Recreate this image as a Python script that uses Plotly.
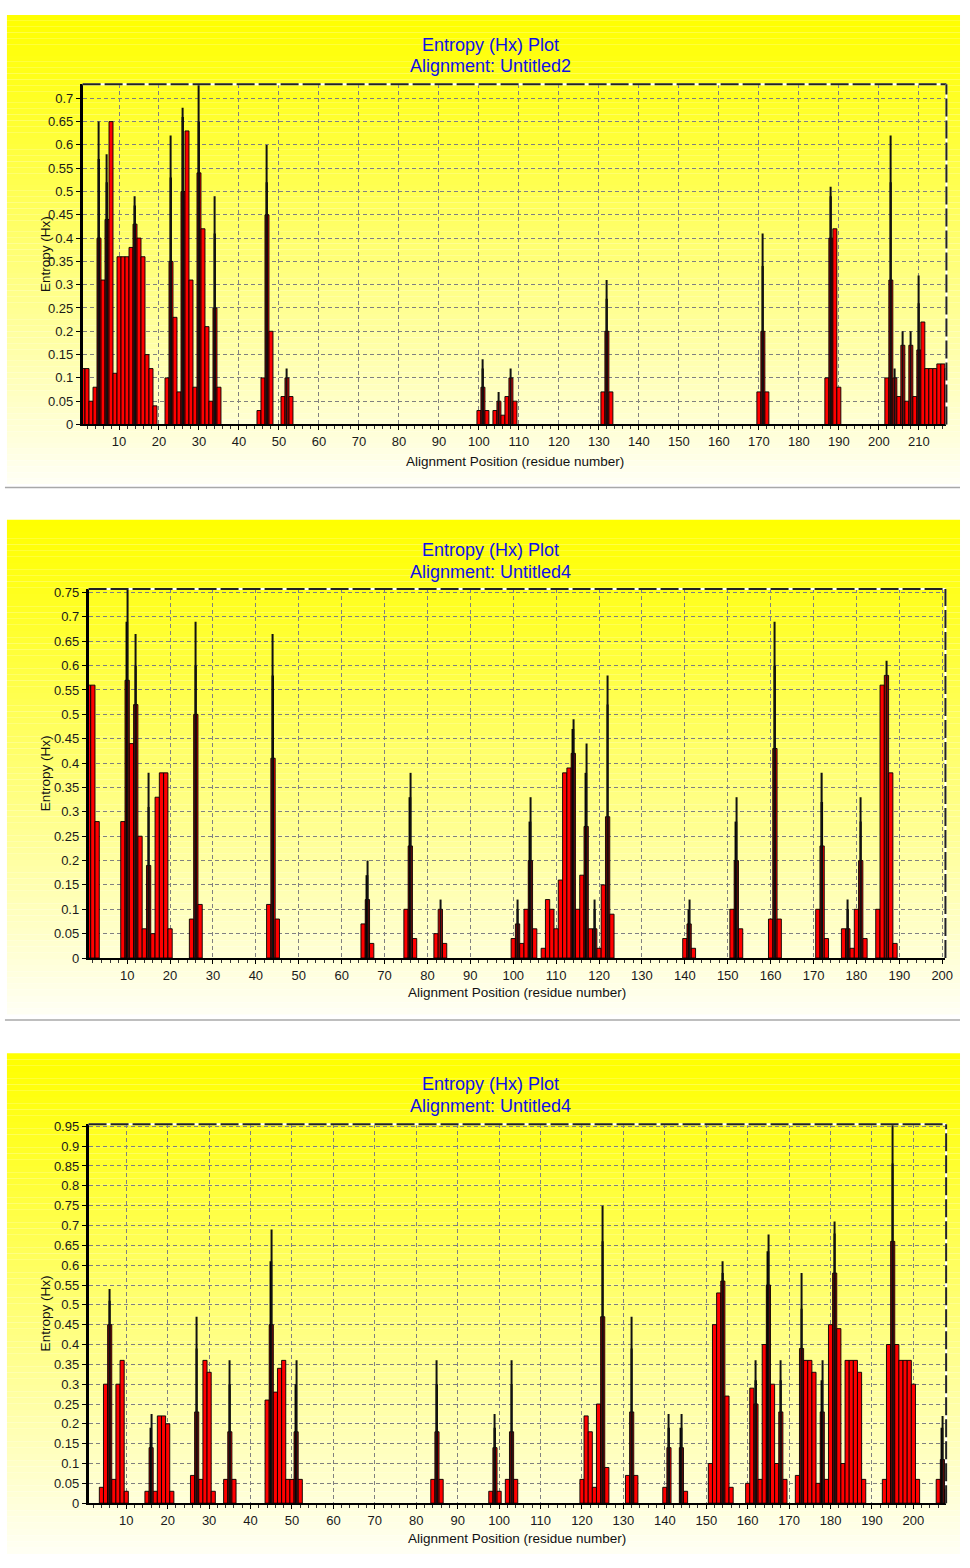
import plotly.graph_objects as go

W, H = 970, 1568

# ---------------- data: panel 1 (Untitled2) ----------------
p1_pos = [1, 2, 3, 4, 5, 6, 7, 8, 9, 10, 11, 12, 13, 14, 15, 16, 17, 18, 19,
          22, 23, 24, 25, 26, 27, 28, 29, 30, 31, 32, 33, 34, 35,
          45, 46, 47, 48, 51, 52, 53,
          100, 101, 102, 104, 105, 106, 107, 108, 109, 131, 132, 133,
          170, 171, 172, 187, 188, 189, 190,
          202, 203, 204, 205, 206, 207, 208, 209, 210, 211, 212, 213, 214, 215, 216, 217]
p1_hx = [0.12, 0.12, 0.05, 0.08, 0.40, 0.31, 0.44, 0.65, 0.11, 0.36, 0.36, 0.36, 0.38, 0.43, 0.40, 0.36, 0.15, 0.12, 0.04,
         0.10, 0.35, 0.23, 0.07, 0.50, 0.63, 0.31, 0.08, 0.54, 0.42, 0.21, 0.05, 0.25, 0.08,
         0.03, 0.10, 0.45, 0.20, 0.06, 0.10, 0.06,
         0.03, 0.08, 0.03, 0.03, 0.05, 0.02, 0.06, 0.10, 0.05, 0.07, 0.20, 0.07,
         0.07, 0.20, 0.07, 0.10, 0.40, 0.42, 0.08,
         0.10, 0.31, 0.10, 0.06, 0.17, 0.05, 0.17, 0.06, 0.16, 0.22, 0.12, 0.12, 0.12, 0.13, 0.13, 0.12]
p1_peak_pos = [5, 7, 14, 23, 26, 30, 34, 47, 52, 101, 105, 108, 132, 171, 188, 203, 204, 206, 208, 210]
p1_peak_core = [0.57, 0.52, 0.47, 0.53, 0.66, 0.65, 0.41, 0.52, None, 0.12, None, None, 0.27,
                0.34, 0.49, 0.52, None, None, None, 0.26]
p1_peak_top = [0.65, 0.58, 0.49, 0.62, 0.68, 0.73, 0.49, 0.60, 0.12, 0.14, 0.07, 0.12, 0.31,
               0.41, 0.51, 0.62, 0.12, 0.20, 0.20, 0.32]

# ---------------- data: panel 2 (Untitled4) ----------------
p2_pos = [1, 2, 3, 9, 10, 11, 12, 13, 14, 15, 16, 17, 18, 19, 20,
          25, 26, 27, 43, 44, 45, 65, 66, 67, 75, 76, 77, 82, 83, 84,
          100, 101, 102, 103, 104, 105, 107, 108, 109, 110, 111, 112, 113, 114, 115,
          116, 117, 118, 119, 120, 121, 122, 123,
          140, 141, 142, 151, 152, 153, 160, 161, 162, 171, 172, 173,
          177, 178, 179, 180, 181, 182, 185, 186, 187, 188, 189]
p2_hx = [0.56, 0.56, 0.28, 0.28, 0.57, 0.44, 0.52, 0.25, 0.06, 0.19, 0.05, 0.33, 0.38, 0.38, 0.06,
         0.08, 0.50, 0.11, 0.11, 0.41, 0.08, 0.07, 0.12, 0.03, 0.10, 0.23, 0.04, 0.05, 0.10, 0.03,
         0.04, 0.07, 0.03, 0.10, 0.20, 0.06, 0.02, 0.12, 0.10, 0.06, 0.16, 0.38, 0.39, 0.42, 0.10,
         0.17, 0.27, 0.06, 0.06, 0.02, 0.15, 0.29, 0.09,
         0.04, 0.07, 0.02, 0.10, 0.20, 0.06, 0.08, 0.43, 0.08, 0.10, 0.23, 0.04,
         0.06, 0.06, 0.02, 0.10, 0.20, 0.04, 0.10, 0.56, 0.58, 0.38, 0.03]
p2_peak_pos = [10, 12, 15, 26, 44, 66, 76, 83, 101, 104, 114, 117, 119, 122,
               141, 152, 161, 172, 178, 181, 187]
p2_peak_core = [0.69, 0.60, 0.31, 0.60, 0.58, 0.17, 0.33, None, 0.10, 0.28, 0.47, 0.38, 0.10, 0.52,
                0.10, 0.28, 0.60, 0.32, 0.10, 0.28, None]
p2_peak_top = [0.76, 0.665, 0.38, 0.69, 0.665, 0.20, 0.38, 0.12, 0.12, 0.33, 0.49, 0.44, 0.12, 0.58,
               0.12, 0.33, 0.69, 0.38, 0.12, 0.33, 0.61]

# ---------------- data: panel 3 (Untitled4) ----------------
p3_pos = [4, 5, 6, 7, 8, 9, 10, 15, 16, 17, 18, 19, 20, 21,
          26, 27, 28, 29, 30, 31, 34, 35, 36, 44, 45, 46, 47, 48, 49, 50, 51, 52,
          84, 85, 86, 98, 99, 100, 102, 103, 104,
          120, 121, 122, 123, 124, 125, 126, 131, 132, 133,
          140, 141, 144, 145, 151, 152, 153, 154, 155, 156,
          160, 161, 162, 163, 164, 165, 166, 167, 168, 169,
          172, 173, 174, 175, 176, 177, 178, 179, 180, 181, 182, 183,
          184, 185, 186, 187, 188, 193, 194, 195, 196, 197, 198, 199, 200, 201,
          206, 207, 208]
p3_hx = [0.04, 0.30, 0.45, 0.06, 0.30, 0.36, 0.03, 0.03, 0.14, 0.03, 0.22, 0.22, 0.20, 0.03,
         0.07, 0.23, 0.06, 0.36, 0.33, 0.03, 0.06, 0.18, 0.06, 0.26, 0.45, 0.28, 0.34, 0.36, 0.06, 0.06, 0.18, 0.06,
         0.06, 0.18, 0.06, 0.03, 0.14, 0.03, 0.06, 0.18, 0.06,
         0.06, 0.22, 0.18, 0.04, 0.25, 0.47, 0.09, 0.07, 0.23, 0.07,
         0.04, 0.14, 0.14, 0.03, 0.10, 0.45, 0.53, 0.56, 0.27, 0.04,
         0.05, 0.29, 0.25, 0.06, 0.40, 0.55, 0.30, 0.10, 0.23, 0.06,
         0.07, 0.39, 0.36, 0.36, 0.33, 0.05, 0.23, 0.06, 0.45, 0.58, 0.44, 0.10,
         0.36, 0.36, 0.36, 0.33, 0.06, 0.06, 0.40, 0.66, 0.40, 0.36, 0.36, 0.36, 0.30, 0.06,
         0.06, 0.11, 0.035]
p3_peak_pos = [6, 16, 27, 35, 45, 51, 85, 99, 103, 125, 132, 141, 144,
               154, 162, 165, 168, 173, 178, 181, 195, 207]
p3_peak_core = [0.51, 0.19, 0.39, 0.30, 0.61, 0.30, 0.30, 0.19, 0.30, 0.66, 0.39, 0.19, 0.19,
                0.58, 0.31, 0.635, 0.31, 0.49, 0.31, 0.68, 0.856, 0.19]
p3_peak_top = [0.54, 0.225, 0.47, 0.36, 0.69, 0.36, 0.36, 0.225, 0.36, 0.75, 0.47, 0.225, 0.225,
               0.61, 0.36, 0.677, 0.36, 0.58, 0.36, 0.71, 0.955, 0.22]

panel_titles = ["Alignment: Untitled2", "Alignment: Untitled4", "Alignment: Untitled4"]
main_title = "Entropy (Hx) Plot"
x_title = "Alignment Position (residue number)"
y_title = "Entropy (Hx)"

# ---------------- layout geometry (pixels) ----------------
panels = [
    dict(pos=p1_pos, hx=p1_hx, ppos=p1_peak_pos, core=p1_peak_core, top=p1_peak_top,
         plot=(83.3, 954.3, 80.0, 423.0), xr=[0.9, 216.9], yr=[0, 0.73],
         box=(10, 483), t1=40, t2=62, xt=460, tx=495),
    dict(pos=p2_pos, hx=p2_hx, ppos=p2_peak_pos, core=p2_peak_core, top=p2_peak_top,
         plot=(89.3, 953.3, 589.0, 961.0), xr=[1.0, 200.75], yr=[0, 0.757],
         box=(519, 1018), t1=550, t2=572, xt=996, tx=495),
    dict(pos=p3_pos, hx=p3_hx, ppos=p3_peak_pos, core=p3_peak_core, top=p3_peak_top,
         plot=(89.3, 954.0, 1128.7, 1510.7), xr=[0.9, 207.9], yr=[0, 0.955],
         box=(1057, 1562), t1=1088, t2=1110, xt=1546, tx=495),
]


def fx(x):
    return x / W


def fy(y):
    return 1 - y / H


FONT = "Liberation Sans, Arial, sans-serif"
fig = go.Figure()
shapes = []
annotations = []

for i, p in enumerate(panels):
    n = "" if i == 0 else str(i + 1)
    xa, ya = "x" + n, "y" + n
    x0, x1, y0, y1 = p["plot"]

    # yellow gradient panel background
    b0, b1 = p["box"]
    steps = 80
    for k in range(steps):
        ya0 = b0 + (b1 - b0) * k / steps
        ya1 = b0 + (b1 - b0) * (k + 1) / steps
        t = (k + 0.5) / steps
        blue = int(round(245 * t ** 1.1))
        shapes.append(dict(type="rect", xref="paper", yref="paper", layer="below",
                           x0=fx(7), x1=fx(968), y0=fy(ya1), y1=fy(ya0),
                           fillcolor=f"rgb(255,255,{blue})", line=dict(width=0)))

    # bars
    fig.add_trace(go.Bar(x=p["pos"], y=p["hx"], width=1.0, xaxis=xa, yaxis=ya,
                         marker=dict(color="#ff0000", line=dict(color="black", width=0.9)),
                         showlegend=False, hoverinfo="x+y"))
    fig.add_trace(go.Bar(x=p["ppos"], y=p["core"], width=0.45, xaxis=xa, yaxis=ya,
                         marker=dict(color="black", line=dict(width=0)),
                         showlegend=False, hoverinfo="skip"))
    fig.add_trace(go.Bar(x=p["ppos"], y=p["top"], width=0.26, xaxis=xa, yaxis=ya,
                         marker=dict(color="#111111", line=dict(width=0)),
                         showlegend=False, hoverinfo="x+y"))

    axfont = dict(family=FONT, size=13, color="#1a1a1a")
    fig.update_layout(**{
        "xaxis" + n: dict(domain=[fx(x0), fx(x1)], anchor=ya, range=p["xr"],
                          tick0=0, dtick=10, ticks="outside", ticklen=4, tickcolor="black",
                          showgrid=True, gridcolor="#808080", griddash="4px,3px", gridwidth=1,
                          zeroline=False, showline=True, linecolor="black", linewidth=2,
                          tickfont=axfont,
                          minor=dict(dtick=2, tick0=0, ticks="outside", ticklen=3,
                                     tickcolor="#333333", showgrid=False),
                          fixedrange=True),
        "yaxis" + n: dict(domain=[fy(y1), fy(y0)], anchor=xa, range=p["yr"],
                          tick0=0, dtick=0.05, ticks="outside", ticklen=4, tickcolor="black",
                          showgrid=True, gridcolor="#808080", griddash="4px,3px", gridwidth=1,
                          zeroline=False, showline=True, linecolor="black", linewidth=2.5,
                          tickfont=axfont, fixedrange=True),
    })

    # dashed top/right frame
    dref_x, dref_y = xa + " domain", ya + " domain"
    for (sx0, sx1, sy0, sy1) in [(0, 1, 1, 1), (1, 1, 0, 1)]:
        shapes.append(dict(type="line", xref=dref_x, yref=dref_y, layer="above",
                           x0=sx0, x1=sx1, y0=sy0, y1=sy1,
                           line=dict(color="white", width=2)))
        shapes.append(dict(type="line", xref=dref_x, yref=dref_y, layer="above",
                           x0=sx0, x1=sx1, y0=sy0, y1=sy1,
                           line=dict(color="#222222", width=2, dash="18px,4px")))

    # titles
    annotations.append(dict(text=main_title, x=fx(p["tx"]), y=fy(p["t1"]), xref="paper", yref="paper",
                            showarrow=False, xanchor="center", yanchor="middle",
                            font=dict(family=FONT, size=18, color="#1010e8")))
    annotations.append(dict(text=panel_titles[i], x=fx(p["tx"]), y=fy(p["t2"]), xref="paper", yref="paper",
                            showarrow=False, xanchor="center", yanchor="middle",
                            font=dict(family=FONT, size=18, color="#1010e8")))
    annotations.append(dict(text=x_title, x=fx((x0 + x1) / 2), y=fy(p["xt"]), xref="paper", yref="paper",
                            showarrow=False, xanchor="center", yanchor="middle",
                            font=dict(family=FONT, size=13.5, color="#111111")))
    annotations.append(dict(text=y_title, x=fx(46), y=fy((y0 + y1) / 2), xref="paper", yref="paper",
                            showarrow=False, xanchor="center", yanchor="middle", textangle=-90,
                            font=dict(family=FONT, size=13.5, color="#111111")))

# separators between panels
for ys in [486.5, 1023.5]:
    shapes.append(dict(type="line", xref="paper", yref="paper", layer="below",
                       x0=fx(5), x1=fx(968), y0=fy(ys), y1=fy(ys),
                       line=dict(color="#a8a8a8", width=1.5)))

fig.update_layout(
    width=W, height=H, autosize=False, margin=dict(l=0, r=0, t=0, b=0),
    paper_bgcolor="white", plot_bgcolor="rgba(0,0,0,0)",
    barmode="overlay", showlegend=False,
    shapes=shapes, annotations=annotations,
    font=dict(family=FONT),
)

POST = (
    "var d=document.getElementById('{plot_id}');"
    "var h=document.documentElement,b=document.body;"
    "h.style.margin='0';h.style.padding='0';h.style.overflow='hidden';"
    "b.style.margin='0';b.style.padding='0';b.style.overflow='hidden';"
    "b.style.width='970px';b.style.height='1568px';"
    "if(d&&d.parentElement){d.parentElement.style.width='970px';"
    "d.parentElement.style.height='1568px';d.parentElement.style.overflow='hidden';}"
    "if(d){d.style.display='block';}"
)

fig.write_html("out.html", config={"displayModeBar": False, "responsive": False},
               post_script=POST)
